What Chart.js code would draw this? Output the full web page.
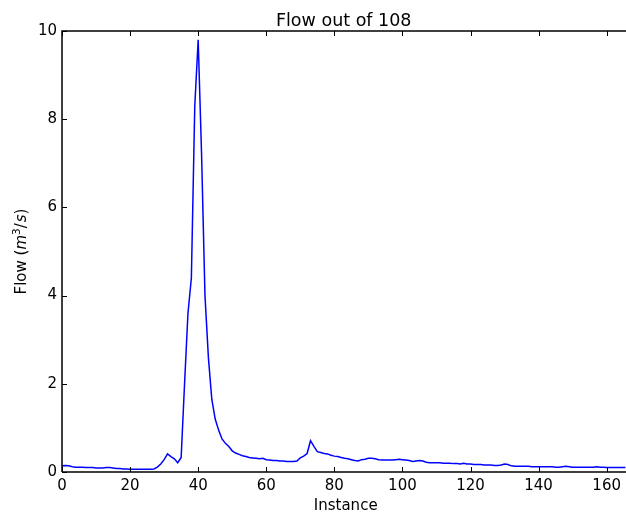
<!DOCTYPE html>
<html>
<head>
<meta charset="utf-8">
<script src="https://cdn.jsdelivr.net/npm/chart.js@4.4.1/dist/chart.umd.min.js"></script>
<style>
  html, body { margin: 0; padding: 0; background: #fff; }
  #wrap { width: 626px; height: 512px; position: relative; }
</style>
</head>
<body>
<div id="wrap"><canvas id="flowChart"></canvas></div>
<script>
const chartTitle = 'Flow out of 108';
const xLabel = 'Instance';

// flow value per instance (instance 0..166)
const flow = [
  0.14, 0.15, 0.14, 0.12, 0.11, 0.11, 0.11, 0.10, 0.10, 0.10,
  0.09, 0.09, 0.09, 0.10, 0.10, 0.09, 0.08, 0.08, 0.07, 0.07,
  0.06, 0.06, 0.06, 0.06, 0.06, 0.06, 0.06, 0.07, 0.11, 0.18,
  0.28, 0.41, 0.35, 0.30, 0.21, 0.33, 2.0, 3.6, 4.4, 8.3,
  9.8, 7.2, 4.0, 2.6, 1.65, 1.2, 0.95, 0.75, 0.65, 0.58,
  0.48, 0.43, 0.40, 0.37, 0.35, 0.33, 0.32, 0.31, 0.30, 0.31,
  0.28, 0.27, 0.26, 0.26, 0.25, 0.25, 0.24, 0.24, 0.24, 0.25,
  0.32, 0.36, 0.42, 0.71, 0.58, 0.46, 0.44, 0.42, 0.41, 0.38,
  0.36, 0.35, 0.33, 0.31, 0.30, 0.28, 0.26, 0.25, 0.28, 0.29,
  0.31, 0.31, 0.30, 0.28, 0.27, 0.27, 0.27, 0.27, 0.28, 0.29,
  0.28, 0.27, 0.26, 0.24, 0.25, 0.26, 0.25, 0.22, 0.21, 0.21,
  0.21, 0.21, 0.20, 0.20, 0.20, 0.19, 0.19, 0.18, 0.20, 0.18,
  0.18, 0.17, 0.17, 0.17, 0.16, 0.16, 0.16, 0.15, 0.15, 0.16,
  0.18, 0.17, 0.14, 0.13, 0.13, 0.13, 0.13, 0.13, 0.12, 0.12,
  0.12, 0.12, 0.12, 0.12, 0.12, 0.11, 0.11, 0.12, 0.13, 0.12,
  0.11, 0.11, 0.11, 0.11, 0.11, 0.11, 0.11, 0.12, 0.11, 0.11,
  0.10, 0.10, 0.10, 0.10, 0.10, 0.10, 0.10
];
const instances = flow.map((v, i) => i);

const xTicks = [0, 20, 40, 60, 80, 100, 120, 140, 160];
const yTicks = [0, 2, 4, 6, 8, 10];

const FONT = 'DejaVu Sans';

// matplotlib-like frame, inward ticks and text
const decor = {
    id: 'decor',
    afterDraw(chart) {
        const { ctx, chartArea: a, scales: { x, y } } = chart;
        ctx.save();
        ctx.strokeStyle = '#000';
        ctx.lineWidth = 1.5;
        ctx.beginPath();
        ctx.moveTo(a.left, a.bottom);
        ctx.lineTo(a.left, a.top);
        ctx.lineTo(a.right + 2, a.top);
        ctx.moveTo(a.left, a.bottom);
        ctx.lineTo(a.right + 2, a.bottom);
        ctx.stroke();

        ctx.lineWidth = 1;
        ctx.beginPath();
        xTicks.forEach(v => {
            const px = Math.round(x.getPixelForValue(v)) + 0.5;
            ctx.moveTo(px, a.bottom);
            ctx.lineTo(px, a.bottom - 5);
            ctx.moveTo(px, a.top);
            ctx.lineTo(px, a.top + 5);
        });
        yTicks.forEach(v => {
            const py = Math.round(y.getPixelForValue(v)) + 0.5;
            ctx.moveTo(a.left, py);
            ctx.lineTo(a.left + 5, py);
        });
        ctx.stroke();

        ctx.fillStyle = '#000';
        const cx = (a.left + a.right) / 2;
        ctx.textAlign = 'center';
        ctx.textBaseline = 'alphabetic';
        ctx.font = '17.5px ' + FONT;
        ctx.fillText(chartTitle, cx, 26);
        ctx.font = '15px ' + FONT;
        ctx.fillText(xLabel, cx + 2, 510);

        // y label: Flow (m^3/s)
        const parts = [
            { t: 'Flow (', f: '15px ' + FONT, dy: 0 },
            { t: 'm', f: 'italic 15px ' + FONT, dy: 0 },
            { t: '3', f: '10.5px ' + FONT, dy: -6 },
            { t: '/', f: '15px ' + FONT, dy: 0 },
            { t: 's', f: 'italic 15px ' + FONT, dy: 0 },
            { t: ')', f: '15px ' + FONT, dy: 0 }
        ];
        let total = 0;
        parts.forEach(p => { ctx.font = p.f; p.w = ctx.measureText(p.t).width; total += p.w + (p.t === '/' ? 1 : 0); });
        ctx.translate(26, (a.top + a.bottom) / 2);
        ctx.rotate(-Math.PI / 2);
        ctx.textAlign = 'left';
        let pos = -total / 2;
        parts.forEach(p => {
            ctx.font = p.f;
            ctx.fillText(p.t, pos, p.dy);
            pos += p.w + (p.t === '/' ? 1 : 0);
        });
        ctx.restore();
    }
};

new Chart(document.getElementById('flowChart'), {
    type: 'line',
    data: {
        datasets: [{
            data: instances.map((i, k) => ({ x: i, y: flow[k] })),
            borderColor: '#0000ff',
            borderWidth: 1.5,
            pointRadius: 0,
            tension: 0,
            fill: false
        }]
    },
    options: {
        responsive: true,
        maintainAspectRatio: false,
        animation: false,
        layout: { padding: { top: 31, left: 0, right: 0, bottom: 0 } },
        plugins: {
            legend: { display: false },
            title: { display: false },
            tooltip: { enabled: false }
        },
        scales: {
            x: {
                type: 'linear',
                min: 0,
                max: 165.5,
                afterFit: s => { s.height = 40; },
                afterBuildTicks: s => { s.ticks = xTicks.map(v => ({ value: v })); },
                grid: { display: false, drawTicks: false },
                border: { display: false },
                ticks: {
                    padding: 5,
                    color: '#000',
                    maxRotation: 0,
                    autoSkip: false,
                    font: { family: FONT, size: 15 }
                }
            },
            y: {
                type: 'linear',
                min: 0,
                max: 10,
                afterFit: s => { s.width = 62; },
                afterBuildTicks: s => { s.ticks = yTicks.map(v => ({ value: v })); },
                grid: { display: false, drawTicks: false },
                border: { display: false },
                ticks: {
                    padding: 5,
                    color: '#000',
                    autoSkip: false,
                    font: { family: FONT, size: 15 }
                }
            }
        }
    },
    plugins: [decor]
});
</script>
</body>
</html>
